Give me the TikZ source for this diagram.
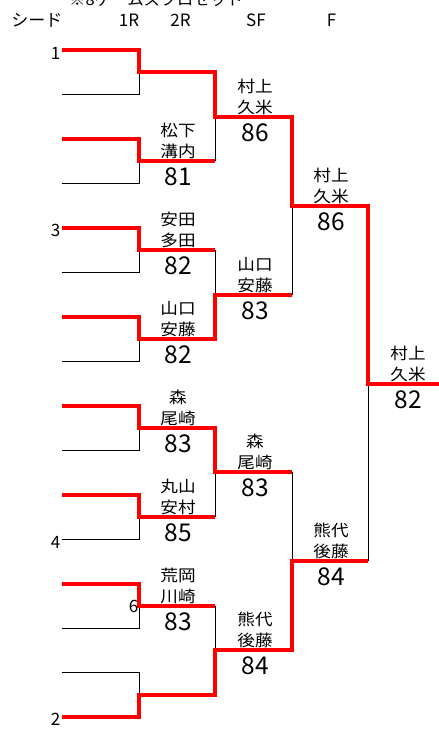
\documentclass[tikz,border=0pt]{standalone}
\usepackage{fontspec}
\newfontfamily\jpname[FakeStretch=1.1]{Noto Sans CJK JP}
\newfontfamily\jpnum{Noto Sans CJK JP}
\begin{document}
\begin{tikzpicture}[x=1pt,y=-1pt,
  lose/.style={draw=black,line width=0.9pt,line join=miter},
  win/.style={draw=red,line width=4pt,line join=miter},
  pname/.style={anchor=south,inner sep=0pt,align=center,font=\jpname\fontsize{16}{21}\selectfont},
  pscore/.style={anchor=base,inner sep=0pt,font=\jpnum\fontsize{24.5}{26}\selectfont},
  hdr/.style={anchor=base,inner sep=0pt,font=\jpnum\fontsize{17}{20}\selectfont},
  seedlab/.style={anchor=base east,inner sep=0pt,font=\jpnum\fontsize{17}{20}\selectfont}]
\useasboundingbox (0,0) rectangle (439,731);
\clip (0,0) rectangle (439,731);
% coordinates
\foreach \i in {1,...,16}{
  \pgfmathsetmacro{\yy}{50+44.47*(\i-1)}
  \coordinate (e\i) at (62,\yy);
  \coordinate (f\i) at (139,\yy);
}
\foreach \k in {1,...,8}{
  \pgfmathsetmacro{\yy}{50+44.47*(2*\k-2)+22.235}
  \coordinate (p\k) at (139,\yy);
  \coordinate (q\k) at (215,\yy);
}
\foreach \k in {1,...,4}{
  \pgfmathsetmacro{\yy}{50+44.47*(4*\k-4)+66.705}
  \coordinate (r\k) at (215,\yy);
  \coordinate (s\k) at (292,\yy);
}
\foreach \k in {1,2}{
  \pgfmathsetmacro{\yy}{50+44.47*(8*\k-8)+155.645}
  \coordinate (t\k) at (292,\yy);
  \coordinate (u\k) at (368,\yy);
}
\coordinate (v) at (368,383.525);
\coordinate (w) at (442,383.525);
% losers (black)
\draw[lose] (e2)--(f2)--(p1);
\draw[lose] (e4)--(f4)--(p2);
\draw[lose] (e6)--(f6)--(p3);
\draw[lose] (e8)--(f8)--(p4);
\draw[lose] (e10)--(f10)--(p5);
\draw[lose] (e12)--(f12)--(p6);
\draw[lose] (e14)--(f14)--(p7);
\draw[lose] (e15)--(f15)--(p8);
\draw[lose] (q2)--(r1);
\draw[lose] (q3)--(r2);
\draw[lose] (q6)--(r3);
\draw[lose] (q7)--(r4);
\draw[lose] (s2)--(t1);
\draw[lose] (s3)--(t2);
\draw[lose] (u2)--(v);
% winners (red)
\draw[win] (e1)--(f1)--(p1)--(q1)--(r1)--(s1)--(t1)--(u1)--(v)--(w);
\draw[win] (e3)--(f3)--(p2)--(q2);
\draw[win] (e5)--(f5)--(p3)--(q3);
\draw[win] (e7)--(f7)--(p4)--(q4)--(r2)--(s2);
\draw[win] (e9)--(f9)--(p5)--(q5)--(r3)--(s3);
\draw[win] (e11)--(f11)--(p6)--(q6);
\draw[win] (e13)--(f13)--(p7)--(q7);
\draw[win] (e16)--(f16)--(p8)--(q8)--(r4)--(s4)--(t2)--(u2);
% title and header
\node[anchor=base west,inner sep=0pt,font=\jpname\fontsize{15}{18}\selectfont] (title) at (69,5.5) {※8ゲームズプロセット};
\node[hdr] (hseed) at (37,26) {シード};
\node[hdr] (h1) at (129,26) {1R};
\node[hdr] (h2) at (180.5,26) {2R};
\node[hdr] (h3) at (256,26) {SF};
\node[hdr] (h4) at (331.5,26) {F};
% seeds
\node[seedlab] (sd1) at ([xshift=-1.5pt,yshift=-9pt]e1) {1};
\node[seedlab] (sd3) at ([xshift=-1.5pt,yshift=-9pt]e5) {3};
\node[seedlab] (sd4) at ([xshift=-1.5pt,yshift=-9pt]e12) {4};
\node[seedlab] (sd2) at ([xshift=-1.5pt,yshift=-8pt]e16) {2};
\node[seedlab] (sd6) at ([xshift=-0.5pt,yshift=-7pt]p7) {6};
% 2R column
\node[pname] (n2) at ([xshift=39pt,yshift=2pt]p2) {松下\\溝内};
\node[pscore] (c2) at ([xshift=39pt,yshift=-24.5pt]p2) {81};
\node[pname] (n3) at ([xshift=39pt,yshift=2pt]p3) {安田\\多田};
\node[pscore] (c3) at ([xshift=39pt,yshift=-24.5pt]p3) {82};
\node[pname] (n4) at ([xshift=39pt,yshift=2pt]p4) {山口\\安藤};
\node[pscore] (c4) at ([xshift=39pt,yshift=-24.5pt]p4) {82};
\node[pname] (n5) at ([xshift=39pt,yshift=2pt]p5) {森\\尾崎};
\node[pscore] (c5) at ([xshift=39pt,yshift=-24.5pt]p5) {83};
\node[pname] (n6) at ([xshift=39pt,yshift=2pt]p6) {丸山\\安村};
\node[pscore] (c6) at ([xshift=39pt,yshift=-24.5pt]p6) {85};
\node[pname] (n7) at ([xshift=39pt,yshift=2pt]p7) {荒岡\\川崎};
\node[pscore] (c7) at ([xshift=39pt,yshift=-24.5pt]p7) {83};
% SF column
\node[pname] (m1) at ([xshift=40pt,yshift=2pt]r1) {村上\\久米};
\node[pscore] (d1) at ([xshift=40pt,yshift=-24.5pt]r1) {86};
\node[pname] (m2) at ([xshift=40pt,yshift=2pt]r2) {山口\\安藤};
\node[pscore] (d2) at ([xshift=40pt,yshift=-24.5pt]r2) {83};
\node[pname] (m3) at ([xshift=40pt,yshift=2pt]r3) {森\\尾崎};
\node[pscore] (d3) at ([xshift=40pt,yshift=-24.5pt]r3) {83};
\node[pname] (m4) at ([xshift=40pt,yshift=2pt]r4) {熊代\\後藤};
\node[pscore] (d4) at ([xshift=40pt,yshift=-24.5pt]r4) {84};
% F column
\node[pname] (k1) at ([xshift=39pt,yshift=2pt]t1) {村上\\久米};
\node[pscore] (g1) at ([xshift=39pt,yshift=-24.5pt]t1) {86};
\node[pname] (k2) at ([xshift=39pt,yshift=2pt]t2) {熊代\\後藤};
\node[pscore] (g2) at ([xshift=39pt,yshift=-24.5pt]t2) {84};
% champion
\node[pname] (champ) at ([xshift=40pt,yshift=2pt]v) {村上\\久米};
\node[pscore] (champs) at ([xshift=40pt,yshift=-24.5pt]v) {82};
\end{tikzpicture}
\end{document}
